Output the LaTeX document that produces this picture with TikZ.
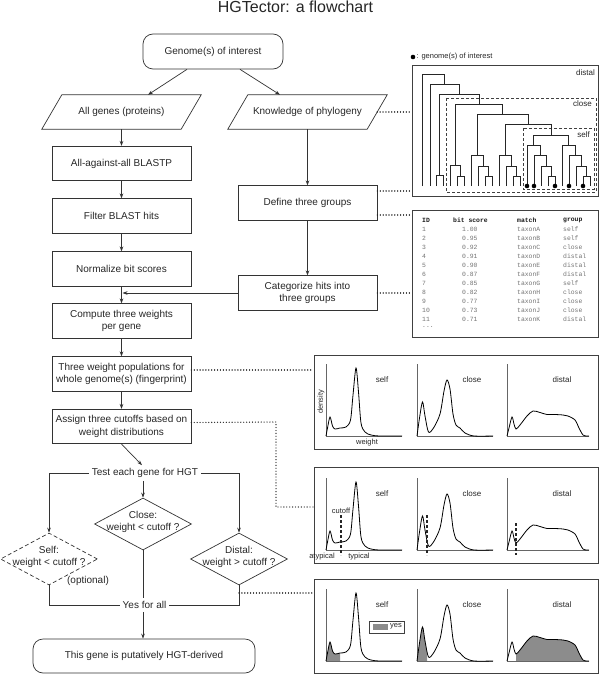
\documentclass[tikz,border=0pt]{standalone}
\usepackage{fontspec}
\setmainfont{Liberation Sans}
\newfontfamily\tabfont{Liberation Mono}
\usetikzlibrary{shapes.geometric,arrows.meta,calc}
\newcommand{\fmain}{\fontsize{10pt}{12.5pt}\selectfont}
\newcommand{\fsmall}{\fontsize{8pt}{9.5pt}\selectfont}
\newcommand{\ftiny}{\fontsize{7.5pt}{9pt}\selectfont}
\newcommand{\ftab}{\tabfont\fontsize{6.4pt}{7pt}\selectfont}
\newcommand{\tbar}[5]{\draw[treeline] (#1,#4) |- (#2,#3) -- (#2,#5);}
\newcommand{\cself}[2]{\path[#1] plot[smooth,tension=0.5] coordinates {(0,0) (1.5,-8) (4,-19) (6.5,-10) (9,-7) (14,-8) (20,-9) (24.5,-16) (27,-41) (30,-68) (32.5,-44) (35,-13) (39,-4) (45,-1) (54,0) (76,0)} #2;}
\newcommand{\cclose}[2]{\path[#1] plot[smooth,tension=0.5] coordinates {(0,0) (2.5,-18) (5.5,-34) (8,-20) (11.5,-4) (16.5,-8) (23,-22) (27,-45) (30,-56) (33,-47) (36,-22) (39,-11) (43,-8) (48,-3) (57,0) (76,0)} #2;}
\newcommand{\cdistal}[2]{\path[#1] plot[smooth,tension=0.5] coordinates {(0,0) (2,-8) (5,-19) (7,-12) (9,-7) (13,-11) (20,-20) (26,-25) (33,-23.5) (40,-21.5) (48,-21.5) (56,-21) (61,-20) (68,-16) (72,-8) (76,-1) (80,0) (82,0)} #2;}
\newcommand{\threeplots}[2]{%
  \begin{scope}[shift={(326,#1)}]
    \draw[axisln] (0,-72) -- (0,0) -- (76,0);
    \cself{curve}{}
    \node[plabel] (#2s) at (56,-56) {self};
  \end{scope}
  \begin{scope}[shift={(417,#1)}]
    \draw[axisln] (0,-72) -- (0,0) -- (76,0);
    \cclose{curve}{}
    \node[plabel] (#2c) at (55,-56) {close};
  \end{scope}
  \begin{scope}[shift={(507,#1)}]
    \draw[axisln] (0,-72) -- (0,0) -- (82,0);
    \cdistal{curve}{}
    \node[plabel] (#2d) at (55,-56) {distal};
  \end{scope}}
\begin{document}
\begin{tikzpicture}[x=1pt,y=-1pt,
  every node/.append style={text=black!85},
  ln/.style={draw=black!80, line width=0.7pt},
  arr/.style={ln, -{Stealth[length=5pt,width=3.6pt]}},
  box/.style={ln, rectangle, minimum width=139pt, minimum height=34.5pt, inner sep=1pt, align=center, font=\fmain},
  pbox/.style={rectangle, minimum width=139pt, minimum height=34pt, inner sep=1pt, align=center, font=\fmain},
  rbox/.style={box, rounded corners=10pt},
  dia/.style={ln, diamond, minimum width=97pt, minimum height=52pt, inner sep=0pt},
  dtext/.style={align=center, font=\fmain, inner sep=1pt},
  plain/.style={font=\fmain, inner sep=3pt},
  dotline/.style={draw=black!85, line width=1.35pt, dash pattern=on 0.01pt off 2.9pt, line cap=round},
  frame/.style={draw=black!75, line width=0.9pt, rectangle, inner sep=0pt},
  dbox/.style={draw=black!75, line width=0.8pt, dash pattern=on 3pt off 2pt},
  treeline/.style={draw=black!85, line width=0.6pt},
  axisln/.style={draw=black!60, line width=0.8pt},
  curve/.style={draw=black, line width=0.8pt},
  plabel/.style={font=\fsmall, inner sep=0pt},
  cut/.style={draw=black!85, line width=1.2pt, dash pattern=on 3pt off 2pt},
  tabrow/.style={anchor=west, inner sep=0pt, font=\ftab, text=black!55},
  tabhead/.style={anchor=west, inner sep=0pt, font=\ftab\bfseries, text=black!90}
]
\useasboundingbox (0,0) rectangle (600,674);

% title
\node[font=\fontsize{16pt}{18pt}\selectfont, anchor=base, inner sep=0pt] (title) at (295.5,12.5) {HGTector: a flowchart};

% flowchart nodes
\node[rbox, minimum width=140pt, minimum height=35pt] (genome) at (213,51.5) {Genome(s) of interest};
\node[pbox] (allg) at (121.5,112) {All genes (proteins)};
\node[pbox] (know) at (307.5,112) {Knowledge of phylogeny};
\draw[ln] ([xshift=10pt]allg.north west) -- ([xshift=10pt]allg.north east) -- ([xshift=-10pt]allg.south east) -- ([xshift=-10pt]allg.south west) -- cycle;
\draw[ln] ([xshift=10pt]know.north west) -- ([xshift=10pt]know.north east) -- ([xshift=-10pt]know.south east) -- ([xshift=-10pt]know.south west) -- cycle;
\node[box] (blastp) at (121.5,163.5) {All-against-all BLASTP};
\node[box] (filter) at (121.5,216) {Filter BLAST hits};
\node[box] (norm) at (121.5,269) {Normalize bit scores};
\node[box] (comp) at (121.5,321) {Compute three weights\\per gene};
\node[box] (pop) at (121.5,374) {Three weight populations for\\whole genome(s) (fingerprint)};
\node[box] (assign) at (121.5,426.5) {Assign three cutoffs based on\\weight distributions};
\node[box] (def) at (307.5,203) {Define three groups};
\node[box] (cat) at (307.5,293) {Categorize hits into\\three groups};

\node[plain] (test) at (145,473) {Test each gene for HGT};
\node[dia] (closed) at (143,524) {};
\node[dtext] (closet) at (143,522) {Close:\\weight < cutoff ?};
\node[dia, dash pattern=on 4pt off 2.5pt] (selfd) at (49,559) {};
\node[dtext] (selft) at (49,557) {Self:\\weight < cutoff ?};
\node[dia] (distd) at (239,559) {};
\node[dtext] (distt) at (239,557) {Distal:\\weight > cutoff ?};
\node[font=\fmain] (opt) at (88,581) {(optional)};
\node[plain] (yes) at (144.5,605) {Yes for all};
\node[rbox, minimum width=222pt, minimum height=34pt] (final) at (144,656) {This gene is putatively HGT-derived};

% flow connectors
\draw[arr] ([xshift=-26pt]genome.south) -- ([xshift=26.5pt]allg.north);
\draw[arr] ([xshift=27pt]genome.south) -- ([xshift=-27.5pt]know.north);
\draw[arr] (allg.south) -- (blastp.north);
\draw[arr] (blastp.south) -- (filter.north);
\draw[arr] (filter.south) -- (norm.north);
\draw[arr] (norm.south) -- (comp.north);
\draw[arr] (know.south) -- (def.north);
\draw[arr] (def.south) -- (cat.north);
\draw[arr] (cat.west) -- ([xshift=1pt]cat.west -| norm.south);
\draw[arr] (comp.south) -- (pop.north);
\draw[arr] (pop.south) -- (assign.north);
\draw[arr] (assign.south) -- ([xshift=-3pt]test.north);
\draw[arr] (test.west) -| (selfd.north);
\draw[arr] (test.east) -| (distd.north);
\draw[arr] (test.south -| closed.north) -- (closed.north);
\draw[ln] (selfd.south) |- (yes.west);
\draw[ln] (distd.south) |- (yes.east);
\draw[ln] (closed.south) -- (closed.south |- yes.north);
\draw[arr] (closed.south |- yes.south) -- (closed.south |- final.north);

% right-hand frames
\node[frame, minimum width=186pt, minimum height=131pt] (tree) at (505,130.5) {};
\node[frame, minimum width=186pt, minimum height=127pt] (table) at (505,273.5) {};
\node[frame, minimum width=284pt, minimum height=94pt] (den1) at (456,402) {};
\node[frame, minimum width=284pt, minimum height=96pt] (den2) at (456,515) {};
\node[frame, minimum width=284pt, minimum height=94pt] (den3) at (456,626) {};

% dotted connectors
\coordinate (bend) at (276,422);
\coordinate (dbr) at (239,593);
\draw[dotline] (know.east) -- (know.east -| tree.west);
\draw[dotline] ([yshift=12pt]def.east) -- ([yshift=12pt]def.east -| tree.west);
\draw[dotline] ([yshift=-12pt]def.east) -- ([yshift=-12pt]def.east -| table.west);
\draw[dotline] (cat.east) -- (cat.east -| table.west);
\draw[dotline] ([yshift=4pt]pop.east) -- ([yshift=4pt]pop.east -| den1.west);
\draw[dotline] ([yshift=4pt]assign.east) -- (bend) -- (bend |- 0,507) -- (den2.west |- 0,507);
\draw[dotline] (dbr) -- (dbr -| den3.west);

% tree legend
\node[circle, fill=black, inner sep=0pt, minimum size=4.6pt] (gdot) at (413,57) {};
\node[anchor=west, font=\ftiny, inner sep=0pt] (gleg) at (416.5,57) {: genome(s) of interest};

% group boxes
\draw[dbox] (446,98) rectangle (596,192);
\draw[dbox] (523,128) rectangle (594,189);
\node[anchor=east, font=\fsmall, inner sep=0pt] (ldist) at (595,73) {distal};
\node[anchor=east, font=\fsmall, inner sep=0pt] (lclose) at (592,104) {close};
\node[anchor=east, font=\fsmall, inner sep=0pt] (lself) at (590,135) {self};

% tree
\tbar{422}{444.6}{74}{186}{84}
\tbar{430}{459.2}{84}{186}{94}
\tbar{439.5}{478.9}{94}{175}{104}
\tbar{436}{443}{175}{186}{186}
\tbar{455.25}{502.6}{104}{165}{114}
\tbar{450}{460.5}{165}{186}{176}
\tbar{457}{464}{176}{186}{186}
\tbar{477.1}{528.1}{114}{155}{124}
\tbar{471}{483.25}{155}{186}{166}
\tbar{478}{488.5}{166}{186}{176}
\tbar{485}{492}{176}{186}{186}
\tbar{505.1}{551.1}{124}{155}{135}
\tbar{499}{511.25}{155}{186}{166}
\tbar{506}{516.5}{166}{186}{176}
\tbar{513}{520}{176}{186}{186}
\tbar{533.6}{568.6}{135}{145}{145}
\tbar{527}{540.1}{145}{186}{155}
\tbar{534}{546.25}{155}{186}{166}
\tbar{541}{551.5}{166}{186}{176}
\tbar{548}{555}{176}{186}{186}
\tbar{562}{575.1}{145}{186}{155}
\tbar{569}{581.25}{155}{186}{166}
\tbar{576}{586.5}{166}{186}{176}
\tbar{583}{590}{176}{186}{186}
\foreach \x in {527,534,555,569,583} \fill[black] (\x,186) circle (2.3pt);

% table
\node[tabhead] (hid) at (422,220) {ID};
\node[tabhead] (hbs) at (453,220) {bit score};
\node[tabhead] (hmt) at (517,220) {match};
\node[tabhead] (hgr) at (563,220) {group};
\foreach \a/\b/\c/\d [count=\k] in {1/1.00/taxonA/self, 2/0.95/taxonB/self, 3/0.92/taxonC/close, 4/0.91/taxonD/distal, 5/0.90/taxonE/distal, 6/0.87/taxonF/distal, 7/0.85/taxonG/self, 8/0.82/taxonH/close, 9/0.77/taxonI/close, 10/0.73/taxonJ/close, 11/0.71/taxonK/distal} {
  \node[tabrow] (id\k) at (422,{220+9*\k}) {\a};
  \node[tabrow] (bs\k) at (462,{220+9*\k}) {\b};
  \node[tabrow] (mt\k) at (517,{220+9*\k}) {\c};
  \node[tabrow] (gr\k) at (563,{220+9*\k}) {\d};
}
\node[tabrow] (dots) at (422,327) {...};

% density panel 1
\threeplots{436}{pa}
\node[font=\ftiny, rotate=90, inner sep=0pt] (dens) at (321,402) {density};
\node[font=\ftiny, inner sep=0pt] (wgt) at (367,443) {weight};

% density panel 2
\threeplots{550}{pb}
\begin{scope}[shift={(326,550)}]
  \draw[cut] (15,-35) -- (15,5);
  \node[font=\ftiny, inner sep=0pt] (cutl) at (15,-39.5) {cutoff};
  \node[font=\ftiny, inner sep=0pt] (atyp) at (-4,6.5) {atypical};
  \node[font=\ftiny, inner sep=0pt] (typ) at (33,6.5) {typical};
\end{scope}
\begin{scope}[shift={(417,550)}]
  \draw[cut] (10,-35) -- (10,5);
\end{scope}
\begin{scope}[shift={(507,550)}]
  \draw[cut] (9,-27) -- (9,5);
\end{scope}

% density panel 3 fills
\begin{scope}[shift={(326,661)}]
  \begin{scope}\clip (0,-80) rectangle (14,1); \cself{fill=black!45}{-- cycle}\end{scope}
  \node[draw=black!75, line width=0.7pt, minimum width=35pt, minimum height=12pt, inner sep=0pt] (leg) at (60.5,-34) {};
  \fill[black!45] (46.5,-37) rectangle (62,-31);
  \node[font=\ftiny, inner sep=0pt] (legt) at (70,-34.5) {yes};
\end{scope}
\begin{scope}[shift={(417,661)}]
  \begin{scope}\clip (0,-80) rectangle (10,1); \cclose{fill=black!45}{-- cycle}\end{scope}
\end{scope}
\begin{scope}[shift={(507,661)}]
  \begin{scope}\clip (9,-80) rectangle (85,1); \cdistal{fill=black!45}{-- cycle}\end{scope}
\end{scope}
\threeplots{661}{pc}
\end{tikzpicture}
\end{document}
